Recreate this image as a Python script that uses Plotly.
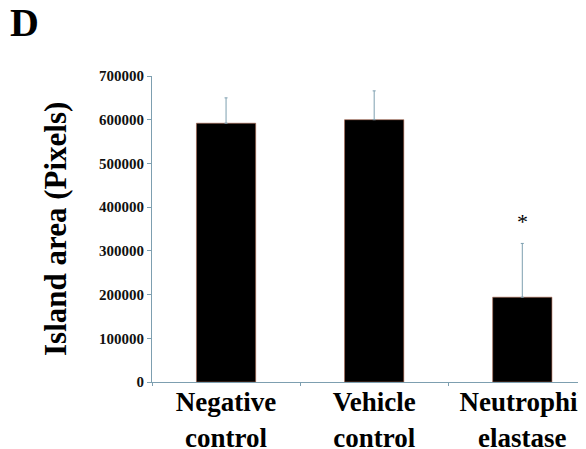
import plotly.graph_objects as go

categories = ["Negative<br>control", "Vehicle<br>control", "Neutrophil<br>elastase"]
values = [592000, 600000, 194000]
errors_up = [58000, 66000, 123000]
errors_down = [0, 0, 0]
ytick_vals = [0, 100000, 200000, 300000, 400000, 500000, 600000, 700000]
ytick_text = [str(v) for v in ytick_vals]
significance = ["", "", "*"]

SERIF = "Liberation Serif"
AXIS_COLOR = "#7d9fb0"

# page has an 8px body margin; figure is sized to end at the window edge
W, H = 578, 441
ML, MR, MT, MB = 144, 0, 68, 67
PW, PH = W - ML - MR, H - MT - MB

fig = go.Figure()
fig.add_trace(go.Bar(
    x=categories, y=values, width=0.4,
    marker=dict(color="black", line=dict(color="#a8624a", width=0.6)),
    error_y=dict(type="data", symmetric=False, array=errors_up, arrayminus=errors_down,
                 color=AXIS_COLOR, thickness=1, width=1.5),
    showlegend=False,
))

for c, v, e, s in zip(categories, values, errors_up, significance):
    if s:
        fig.add_annotation(x=c, y=v + e, text=s, showarrow=False, yanchor="bottom",
                           yshift=7, font=dict(family=SERIF, size=22, color="black"))

# panel letter
fig.add_annotation(xref="paper", yref="paper", x=(16 - ML) / PW, y=1 + (MT - 15) / PH,
                   text="D", showarrow=False, xanchor="center", yanchor="middle",
                   font=dict(family=SERIF, size=40, color="black", weight="bold"))
# y-axis title
fig.add_annotation(xref="paper", yref="paper", x=(47 - ML) / PW, y=0.5,
                   text="Island area (Pixels)", textangle=-90, showarrow=False,
                   xanchor="center", yanchor="middle",
                   font=dict(family=SERIF, size=31, color="black", weight="bold"))

fig.update_layout(
    width=W, height=H,
    margin=dict(l=ML, r=MR, t=MT, b=MB, autoexpand=False),
    paper_bgcolor="white", plot_bgcolor="white",
)

fig.update_xaxes(
    range=[-0.5, 2.43], showline=True, linecolor=AXIS_COLOR, linewidth=1,
    ticks="outside", tickson="boundaries", ticklen=3, tickcolor=AXIS_COLOR,
    ticklabelstandoff=-4,
    tickfont=dict(family=SERIF, size=27, color="black", weight="bold"),
    showgrid=False, zeroline=False,
)
fig.update_yaxes(
    range=[0, 700000], tickvals=ytick_vals, ticktext=ytick_text,
    showline=True, linecolor=AXIS_COLOR, linewidth=1,
    ticks="outside", ticklen=4, tickcolor=AXIS_COLOR,
    tickfont=dict(family=SERIF, size=15, color="#111111", weight="bold"),
    showgrid=False, zeroline=False,
)

fig.write_html("out.html")
